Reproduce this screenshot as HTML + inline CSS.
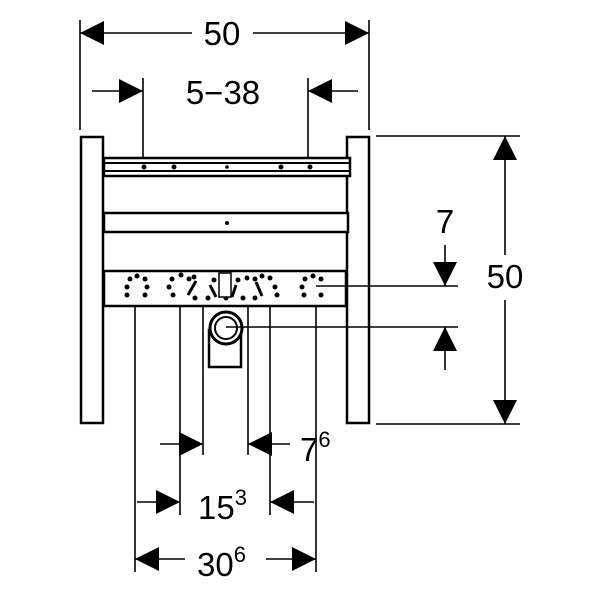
<!DOCTYPE html>
<html><head><style>body{margin:0;background:#fff}svg{display:block}text{font-family:"Liberation Sans",sans-serif;fill:#000}</style></head>
<body>
<svg width="600" height="600" viewBox="0 0 600 600" xmlns="http://www.w3.org/2000/svg">
<g stroke="#000" stroke-width="1.6" fill="none">
<line x1="80" y1="20" x2="80" y2="130"/><line x1="369" y1="20" x2="369" y2="130"/>
<line x1="80" y1="33" x2="192" y2="33"/><line x1="253" y1="33" x2="369" y2="33"/>
<line x1="143" y1="78" x2="143" y2="157"/><line x1="308" y1="78" x2="308" y2="157"/>
<line x1="92" y1="91" x2="143" y2="91"/><line x1="308" y1="91" x2="358" y2="91"/>
<line x1="376" y1="136" x2="520" y2="136"/><line x1="376" y1="424" x2="520" y2="424"/>
<line x1="505" y1="136" x2="505" y2="255"/><line x1="505" y1="300" x2="505" y2="424"/>
<line x1="445" y1="245" x2="445" y2="286"/><line x1="445" y1="327" x2="445" y2="370"/>
<line x1="135" y1="285" x2="135" y2="572"/><line x1="180" y1="285" x2="180" y2="515"/>
<line x1="203" y1="285" x2="203" y2="455"/><line x1="248" y1="285" x2="248" y2="455"/>
<line x1="270" y1="285" x2="270" y2="515"/><line x1="316" y1="285" x2="316" y2="572"/>
<line x1="160" y1="444" x2="203" y2="444"/><line x1="248" y1="444" x2="290" y2="444"/>
<line x1="137" y1="502" x2="180" y2="502"/><line x1="270" y1="502" x2="314" y2="502"/>
<line x1="135" y1="559" x2="185" y2="559"/><line x1="266" y1="559" x2="316" y2="559"/>
</g>
<g fill="#000">
<polygon points="80,33 104,21 104,45"/><polygon points="369,33 345,21 345,45"/>
<polygon points="143,91 119,79 119,103"/><polygon points="308,91 332,79 332,103"/>
<polygon points="505,136 493,160 517,160"/><polygon points="505,424 493,400 517,400"/>
<polygon points="445,286 433,262 457,262"/><polygon points="445,327 433,351 457,351"/>
<polygon points="203,444 179,432 179,456"/><polygon points="248,444 272,432 272,456"/>
<polygon points="180,502 156,490 156,514"/><polygon points="270,502 294,490 294,514"/>
<polygon points="135,559 159,547 159,571"/><polygon points="316,559 292,547 292,571"/>
</g>
<g stroke="#000" stroke-width="2.5" fill="#fff">
<rect x="81" y="137" width="22" height="286"/><rect x="347" y="137" width="22" height="286"/>
<rect x="104" y="158" width="246" height="18"/>
<rect x="104" y="213" width="244" height="19"/>
<rect x="104" y="271" width="242" height="35"/>
<rect x="209" y="330" width="32" height="37"/>
</g>
<g stroke="#000" stroke-width="2" fill="none">
<line x1="104" y1="163" x2="350" y2="163"/><line x1="104" y1="171" x2="350" y2="171"/>
<circle cx="226" cy="328" r="16" fill="#fff" stroke-width="3"/><circle cx="226" cy="328" r="11" stroke-width="2"/>
</g>
<g fill="#000">
<circle cx="144" cy="167" r="2.5"/><circle cx="174" cy="167" r="2.5"/><circle cx="227" cy="167" r="1.8"/><circle cx="281" cy="167" r="2.5"/><circle cx="310" cy="167" r="2.5"/>
<circle cx="227" cy="223" r="2"/>
<circle cx="127" cy="287" r="2.5"/><circle cx="130" cy="279" r="2.5"/><circle cx="137" cy="276" r="2.5"/><circle cx="145" cy="279" r="2.5"/><circle cx="147" cy="287" r="2.5"/><circle cx="145" cy="295" r="2.5"/><circle cx="127" cy="295" r="2.5"/>
<circle cx="169" cy="287" r="2.5"/><circle cx="172" cy="279" r="2.5"/><circle cx="181" cy="275" r="2.5"/><circle cx="189" cy="279" r="2.5"/><circle cx="173" cy="295" r="2.5"/><circle cx="194" cy="277" r="2.5"/><circle cx="195" cy="298" r="2.5"/>
<circle cx="214" cy="280" r="2.5"/><circle cx="208" cy="298" r="2.5"/><circle cx="226" cy="298" r="2.5"/><circle cx="238" cy="280" r="2.5"/><circle cx="243" cy="298" r="2.5"/>
<circle cx="247" cy="278" r="2.5"/><circle cx="255" cy="279" r="2.5"/><circle cx="262" cy="276" r="2.5"/><circle cx="270" cy="278" r="2.5"/><circle cx="275" cy="287" r="2.5"/><circle cx="255" cy="298" r="2.5"/><circle cx="277" cy="295" r="2.5"/>
<circle cx="302" cy="287" r="2.5"/><circle cx="305" cy="279" r="2.5"/><circle cx="313" cy="276" r="2.5"/><circle cx="321" cy="279" r="2.5"/><circle cx="304" cy="295" r="2.5"/><circle cx="321" cy="295" r="2.5"/>
</g>
<g stroke="#000" stroke-width="3">
<line x1="188" y1="295" x2="196" y2="281"/><line x1="210" y1="285" x2="216" y2="297"/><line x1="236" y1="285" x2="232" y2="297"/><line x1="256" y1="282" x2="262" y2="296"/>
</g>
<rect x="219" y="273" width="12" height="24" fill="#fff" stroke="#000" stroke-width="1.5"/>
<g stroke="#000" stroke-width="1.6">
<line x1="316" y1="286" x2="458" y2="286"/><line x1="226" y1="327" x2="458" y2="327"/>
</g>
<g font-size="33">
<text x="222" y="45" text-anchor="middle">50</text>
<text x="223" y="104" text-anchor="middle">5−38</text>
<text x="505" y="288" text-anchor="middle">50</text>
<text x="445" y="233" text-anchor="middle">7</text>
<text x="300" y="461">7<tspan font-size="22" dy="-14">6</tspan></text>
<text x="198" y="519">15<tspan font-size="22" dy="-14">3</tspan></text>
<text x="197" y="576">30<tspan font-size="22" dy="-14">6</tspan></text>
</g>
</svg>
</body></html>
